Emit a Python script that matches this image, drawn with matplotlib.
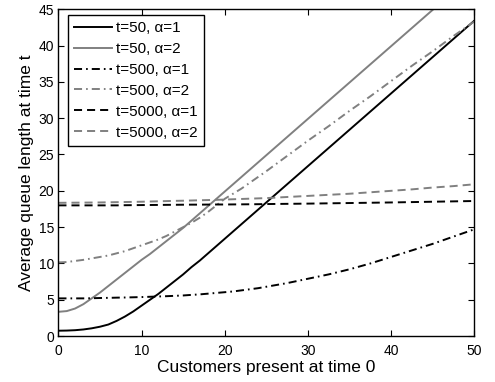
import matplotlib
matplotlib.use('Agg')
import matplotlib.pyplot as plt

plt.rcParams['font.family'] = ['Liberation Sans', 'DejaVu Sans']
plt.rcParams['lines.scale_dashes'] = False

# customers present at time 0 (finer where the curves bend)
x = list(range(0, 25)) + [25, 27.5, 30, 32.5, 35, 37.5, 40, 42.5, 45, 47.5, 50]

# average queue length at time t
t50_a1 = [0.75, 0.77, 0.82, 0.92, 1.08, 1.3, 1.6, 2.1, 2.7, 3.4, 4.2, 5.0, 5.8,
          6.7, 7.6, 8.5, 9.5, 10.4, 11.4, 12.4, 13.4, 14.4, 15.4, 16.4, 17.4,
          18.4, 20.9, 23.4, 25.9, 28.4, 30.9, 33.4, 35.9, 38.4, 40.9, 43.4]
t50_a2 = [3.35, 3.45, 3.8, 4.4, 5.2, 6.0, 6.9, 7.8, 8.7, 9.6, 10.5, 11.3, 12.2,
          13.1, 14.0, 14.9, 15.9, 16.9, 17.9, 18.9, 19.9, 20.9, 21.9, 22.9, 23.9,
          24.9, 27.4, 29.9, 32.4, 34.9, 37.4, 39.9, 42.4, 44.9, 47.4, 49.9]
t500_a1 = [5.2, 5.2, 5.2, 5.2, 5.22, 5.25, 5.27, 5.3, 5.32, 5.35, 5.38, 5.42, 5.46,
           5.5, 5.55, 5.6, 5.68, 5.75, 5.85, 5.95, 6.05, 6.15, 6.3, 6.45, 6.6,
           6.8, 7.3, 7.9, 8.5, 9.2, 10.0, 10.9, 11.8, 12.7, 13.7, 14.7]
t500_a2 = [10.15, 10.2, 10.35, 10.5, 10.7, 10.9, 11.1, 11.4, 11.7, 12.1, 12.5, 12.9,
           13.3, 13.8, 14.4, 15.0, 15.6, 16.3, 17.1, 18.0, 18.9, 19.6, 20.3, 21.1,
           21.9, 22.7, 24.8, 26.9, 28.9, 31.0, 33.0, 35.1, 37.2, 39.2, 41.3, 43.3]
t5000_a1 = [18.0, 18.0, 18.0, 18.0, 18.0, 18.0, 18.0, 18.0, 18.02, 18.03, 18.04,
            18.05, 18.06, 18.07, 18.08, 18.09, 18.1, 18.1, 18.11, 18.12, 18.12,
            18.13, 18.14, 18.15, 18.16, 18.18, 18.21, 18.24, 18.28, 18.32, 18.36,
            18.4, 18.45, 18.5, 18.55, 18.6]
t5000_a2 = [18.35, 18.36, 18.37, 18.38, 18.39, 18.4, 18.42, 18.44, 18.46, 18.48,
            18.5, 18.53, 18.56, 18.59, 18.62, 18.64, 18.67, 18.7, 18.73, 18.76,
            18.8, 18.84, 18.88, 18.92, 18.96, 19.0, 19.15, 19.3, 19.45, 19.6, 19.8,
            20.0, 20.2, 20.45, 20.65, 20.9]

labels = ['t=50, α=1', 't=50, α=2', 't=500, α=1', 't=500, α=2',
          't=5000, α=1', 't=5000, α=2']

gray = '#808080'
dash = (0, (5.8, 3.6))
dashdot = (0, (5.8, 2.9, 1.2, 2.9))

fig = plt.figure(figsize=(4.95, 3.82), dpi=100)
ax = fig.add_axes([0.118, 0.120, 0.840, 0.856])

lw = 1.4
ax.plot(x, t50_a1, color='black', lw=lw, label=labels[0])
ax.plot(x, t50_a2, color=gray, lw=lw, label=labels[1])
ax.plot(x, t500_a1, color='black', lw=lw, linestyle=dashdot, label=labels[2])
ax.plot(x, t500_a2, color=gray, lw=lw, linestyle=dashdot, label=labels[3])
ax.plot(x, t5000_a1, color='black', lw=lw, linestyle=dash, label=labels[4])
ax.plot(x, t5000_a2, color=gray, lw=lw, linestyle=dash, label=labels[5])

ax.set_xlim(0, 50)
ax.set_ylim(0, 45)
ax.set_xticks(range(0, 51, 10))
ax.set_yticks(range(0, 46, 5))
ax.tick_params(direction='in', length=4, width=0.8, labelsize=10,
               top=True, right=True, pad=3)
ax.tick_params(axis='x', pad=6)
for s in ax.spines.values():
    s.set_linewidth(1.0)

ax.set_xlabel('Customers present at time 0', fontsize=12.5, labelpad=1)
ax.set_ylabel('Average queue length at time t', fontsize=12.5, labelpad=3)

leg = ax.legend(loc='upper left', bbox_to_anchor=(0.022, 0.982), borderaxespad=0,
                fontsize=11, handlelength=2.5, handletextpad=0.3,
                labelspacing=0.45, borderpad=0.4, fancybox=False,
                framealpha=1, edgecolor='black')
leg.get_frame().set_linewidth(1.0)

fig.savefig('out.png', dpi=100)
